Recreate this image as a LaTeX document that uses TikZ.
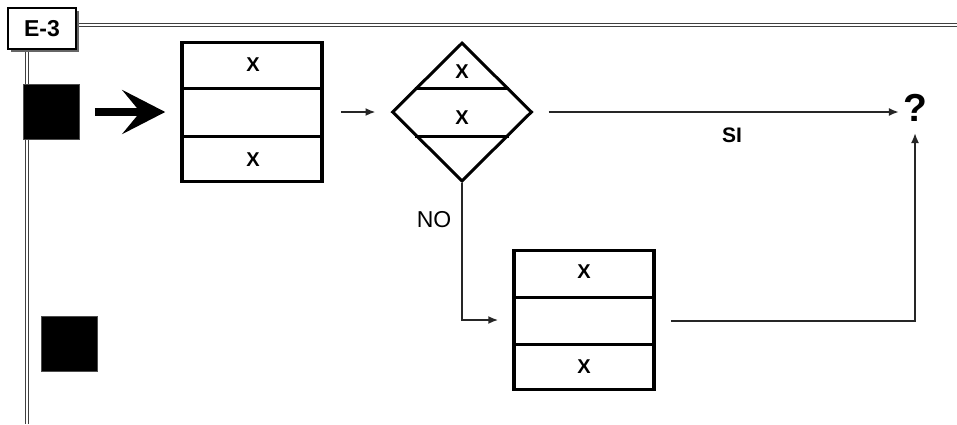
\documentclass[tikz,border=0pt]{standalone}
\usepackage{fontspec}
\setmainfont{Liberation Sans}
\usetikzlibrary{arrows.meta,calc,shapes.geometric,shadows}
\begin{document}
\begin{tikzpicture}[x=1pt,y=-1pt,
  box/.style={draw, line width=3.5pt, minimum width=140pt, minimum height=139pt, inner sep=0pt},
  divider/.style={line width=3pt},
  blk/.style={fill=black, draw=black!70, line width=0.6pt, minimum width=56pt, minimum height=55pt, inner sep=0pt},
  xtxt/.style={font=\fontsize{20}{22}\selectfont\bfseries, inner sep=0pt},
  conn/.style={line width=1.8pt, draw=black!85},
  tip/.style={-{Latex[length=10pt,width=8pt]}},
  dline/.style={double=white, double distance=2pt, line width=0.9pt, draw=black!75}
]
\useasboundingbox (0,0) rectangle (957,424);

% header box and double frame lines
\coordinate (hr) at (957,25);
\coordinate (vt) at (27,52);
\coordinate (vb) at (27,424);
\draw[dline] (77,25) -- (hr);
\draw[dline] (vt) -- (vb);
\node[draw, line width=1.6pt, fill=white, minimum width=68pt, minimum height=41pt, inner sep=0pt,
      drop shadow={shadow xshift=3pt, shadow yshift=-3pt, fill=black!60, opacity=1},
      font=\fontsize{23}{25}\selectfont\bfseries] (e3) at (42,28.5) {E-3};

% black squares
\node[blk] (sq1) at (51.5,112) {};
\node[blk] (sq2) at (69.5,343.5) {};

% first process box
\node[box] (b1) at (252,112) {};
\draw[divider] ($(b1.north west)!0.338!(b1.south west)$) -- ($(b1.north east)!0.338!(b1.south east)$);
\draw[divider] ($(b1.north west)!0.67!(b1.south west)$) -- ($(b1.north east)!0.67!(b1.south east)$);
\node[xtxt] (b1x1) at (253,65) {X};
\node[xtxt] (b1x3) at (253,160) {X};

% decision diamond
\node[diamond, aspect=1, draw, line width=3pt, minimum width=140pt, minimum height=139pt, inner sep=0pt] (d) at (462,112) {};
\draw[divider] ($(d.west)!0.338!(d.north)$) -- ($(d.east)!0.338!(d.north)$);
\draw[divider] ($(d.west)!0.338!(d.south)$) -- ($(d.east)!0.338!(d.south)$);
\node[xtxt] (dx1) at (462,72) {X};
\node[xtxt] (dx2) at (462,118) {X};

% second process box
\node[box] (b2) at (584,320) {};
\draw[divider] ($(b2.north west)!0.345!(b2.south west)$) -- ($(b2.north east)!0.345!(b2.south east)$);
\draw[divider] ($(b2.north west)!0.67!(b2.south west)$) -- ($(b2.north east)!0.67!(b2.south east)$);
\node[xtxt] (b2x1) at (584,272) {X};
\node[xtxt] (b2x3) at (584,367) {X};

% question mark
\node[font=\fontsize{39}{41}\selectfont\bfseries, inner sep=0pt] (q) at (915,108) {?};

% big arrow
\draw[line width=8pt, -{Stealth[length=43pt, width=44pt, inset=18pt]}, shorten <=15pt, shorten >=15pt] (sq1.east) -- (b1.west);

% connectors
\draw[conn, tip, shorten <=17pt, shorten >=15pt] (b1.east) -- (d.west);
\draw[conn, tip] ($(d.east)+(15,0)$) -- ($(q.west)+(-4,4)$);
\node[font=\fontsize{21}{23}\selectfont\bfseries, inner sep=0pt] (si) at (732,135) {SI};
\draw[conn, tip] (d.south) |- ($(b2.west)+(-14,0)$);
\node[font=\fontsize{23}{25}\selectfont, inner sep=0pt] (no) at (434,220) {NO};
\coordinate (qb) at (915,133);
\draw[conn, tip] ($(b2.east)+(15,1)$) -| (qb);
\end{tikzpicture}
\end{document}
